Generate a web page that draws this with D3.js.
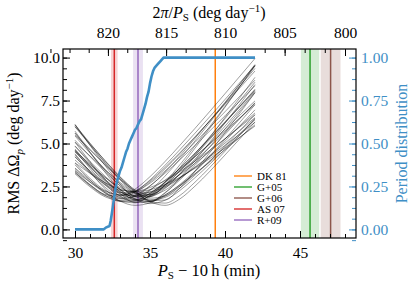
<!DOCTYPE html>
<html>
<head>
<meta charset="utf-8">
<script src="https://cdn.jsdelivr.net/npm/d3@7"></script>
<style>
  html, body { margin: 0; padding: 0; background: #fff; }
  svg { display: block; font-family: "Liberation Serif", "DejaVu Serif", serif; }
</style>
</head>
<body>
<svg id="chart" width="415" height="288"></svg>
<script>
/* Data
======================================================================= */
var curveX = [30, 31, 32, 33, 34, 35, 36, 37, 38, 40, 42];

// RMS delta Omega_p (deg/day) of each trial curve, one row per curve
var rmsCurves = [
  [3.41, 2.61, 2.04, 1.93, 2.34, 3.07, 3.95, 4.90, 5.88, 7.90, 9.95],
  [3.24, 2.48, 1.90, 1.70, 1.97, 2.54, 3.27, 4.06, 4.89, 6.61, 8.36],
  [3.86, 2.97, 2.28, 2.00, 2.24, 2.83, 3.61, 4.47, 5.39, 7.28, 9.22],
  [3.53, 2.76, 2.13, 1.81, 1.91, 2.31, 2.87, 3.53, 4.24, 5.73, 7.27],
  [4.34, 3.38, 2.58, 2.13, 2.22, 2.76, 3.53, 4.42, 5.36, 7.34, 9.37],
  [3.76, 2.88, 2.13, 1.65, 1.68, 2.10, 2.73, 3.45, 4.22, 5.83, 7.48],
  [4.61, 3.55, 2.62, 1.99, 1.98, 2.52, 3.34, 4.29, 5.30, 7.40, 9.54],
  [4.22, 3.41, 2.72, 2.28, 2.22, 2.44, 2.84, 3.37, 3.97, 5.28, 6.67],
  [4.24, 3.31, 2.46, 1.85, 1.72, 2.10, 2.77, 3.57, 4.42, 6.22, 8.07],
  [5.08, 3.94, 2.88, 2.06, 1.81, 2.27, 3.10, 4.10, 5.15, 7.35, 9.60],
  [4.04, 3.29, 2.63, 2.16, 2.00, 2.18, 2.61, 3.19, 3.84, 5.27, 6.78],
  [4.68, 3.67, 2.72, 1.94, 1.60, 1.89, 2.56, 3.40, 4.31, 6.21, 8.16],
  [4.52, 3.64, 2.83, 2.20, 1.90, 2.07, 2.56, 3.23, 3.99, 5.64, 7.36],
  [5.72, 4.49, 3.33, 2.31, 1.72, 1.95, 2.75, 3.77, 4.87, 7.16, 9.51],
  [4.59, 3.77, 3.03, 2.44, 2.12, 2.17, 2.50, 3.01, 3.63, 5.02, 6.51],
  [4.86, 3.87, 2.93, 2.10, 1.56, 1.60, 2.14, 2.89, 3.73, 5.53, 7.37],
  [6.12, 4.89, 3.72, 2.65, 1.91, 1.91, 2.60, 3.61, 4.73, 7.11, 9.55],
  [5.44, 4.44, 3.49, 2.66, 2.11, 2.04, 2.48, 3.22, 4.09, 6.01, 8.02],
  [4.52, 3.69, 2.91, 2.21, 1.72, 1.62, 1.94, 2.53, 3.23, 4.78, 6.41],
  [6.07, 4.94, 3.86, 2.88, 2.13, 1.92, 2.38, 3.25, 4.28, 6.52, 8.85],
  [5.19, 4.25, 3.36, 2.55, 1.92, 1.70, 2.00, 2.62, 3.40, 5.13, 6.96],
  [6.09, 5.02, 3.99, 3.05, 2.31, 2.00, 2.28, 2.97, 3.86, 5.85, 7.96],
  [4.59, 3.79, 3.03, 2.33, 1.77, 1.50, 1.70, 2.27, 3.01, 4.66, 6.39],
  [5.60, 4.66, 3.76, 2.92, 2.22, 1.82, 1.94, 2.53, 3.36, 5.25, 7.26],
  [5.99, 4.99, 4.01, 3.07, 2.25, 1.68, 1.71, 2.41, 3.40, 5.63, 7.96],
  [5.07, 4.27, 3.48, 2.74, 2.08, 1.61, 1.53, 1.98, 2.75, 4.55, 6.48],
  [5.49, 4.63, 3.78, 2.96, 2.21, 1.62, 1.40, 1.78, 2.52, 4.33, 6.26],
  [3.57, 2.85, 2.19, 1.65, 1.40, 1.55, 2.00, 2.59, 3.24, 4.64, 6.09],
  [3.30, 2.59, 1.99, 1.64, 1.65, 1.95, 2.42, 2.99, 3.60, 4.89, 6.23],
  [3.88, 3.26, 2.72, 2.34, 2.20, 2.31, 2.61, 3.04, 3.56, 4.74, 6.02],
  [3.33, 2.55, 1.97, 1.81, 2.18, 2.88, 3.73, 4.65, 5.60, 7.56, 9.55],
  [4.40, 3.35, 2.37, 1.65, 1.55, 2.00, 2.73, 3.56, 4.44, 6.26, 8.12],
  [5.61, 4.50, 3.45, 2.54, 1.96, 2.01, 2.59, 3.43, 4.39, 6.45, 8.57],
  [3.43, 2.75, 2.23, 2.00, 2.18, 2.69, 3.40, 4.21, 5.07, 6.85, 8.69],
  [5.97, 4.92, 3.91, 2.96, 2.15, 1.71, 1.86, 2.41, 3.16, 4.87, 6.68],
  [4.83, 3.95, 3.10, 2.34, 1.77, 1.62, 2.11, 2.99, 4.01, 6.19, 8.43]
];

// Cumulative period distribution (right axis)
var distX = [30.0, 31.9, 32.05, 32.3, 32.38, 32.45, 32.52, 32.6, 32.7, 32.8, 32.9, 33.0,
             33.1, 33.2, 33.3, 33.4, 33.5, 33.6, 33.7, 33.8, 33.9, 34.0, 34.1, 34.2,
             34.3, 34.4, 34.5, 34.6, 34.7, 34.8, 34.9, 35.0, 35.1, 35.2, 35.3, 35.5,
             35.7, 35.9, 42.0];
var distY = [0.00, 0.00, 0.01, 0.02, 0.05, 0.09, 0.13, 0.18, 0.24, 0.28, 0.31, 0.34,
             0.36, 0.39, 0.42, 0.45, 0.47, 0.50, 0.52, 0.54, 0.56, 0.58, 0.59, 0.61,
             0.63, 0.64, 0.67, 0.70, 0.73, 0.77, 0.80, 0.85, 0.89, 0.92, 0.94, 0.96,
             0.98, 1.00, 1.00];

// Published periods (min past 10 h) and their uncertainties
var refNames = ['DK 81', 'G+05', 'G+06', 'AS 07', 'R+09'];
var refPeriod = [39.35, 45.67, 47.04, 32.62, 34.20];
var refErr = [0.0, 0.61, 0.66, 0.22, 0.33];
var refColor = ['#ff7f0e', '#2ca02c', '#8c564b', '#d62728', '#9467bd'];

// Tick values
var bottomTicks = [30, 35, 40, 45];
var topTicks = [820, 815, 810, 805, 800];
var leftTicks = [0, 2.5, 5, 7.5, 10];
var rightTicks = [0, 0.25, 0.5, 0.75, 1];

/* Layout
======================================================================= */
var svg = d3.select('#chart'),
    m = { left: 63, right: 356, top: 49, bottom: 238 },
    blue = '#3f8fc6',
    fs = 15.5; // tick label font size

var x = d3.scaleLinear().domain([29.2, 48.733]).range([m.left, m.right]),
    y = d3.scaleLinear().domain([-0.5, 10.5]).range([m.bottom, m.top]),
    y2 = d3.scaleLinear().domain([-0.05, 1.05]).range([m.bottom, m.top]);

// angular frequency (deg/day) <-> P_S - 10 h (min)
function omegaToX(om) { return 360 * 24 * 60 / om - 600; }

svg.append('clipPath').attr('id', 'clip')
  .append('rect')
    .attr('x', m.left).attr('y', m.top)
    .attr('width', m.right - m.left).attr('height', m.bottom - m.top);

var plot = svg.append('g').attr('clip-path', 'url(#clip)');

/* Bands and reference lines
======================================================================= */
refPeriod.forEach(function(p, i) {
  if (refErr[i] > 0) {
    plot.append('rect')
      .attr('x', x(p - refErr[i]))
      .attr('y', m.top)
      .attr('width', x(p + refErr[i]) - x(p - refErr[i]))
      .attr('height', m.bottom - m.top)
      .attr('fill', refColor[i])
      .attr('fill-opacity', 0.2);
  }
});

refPeriod.forEach(function(p, i) {
  plot.append('line')
    .attr('x1', x(p)).attr('x2', x(p))
    .attr('y1', m.top).attr('y2', m.bottom)
    .attr('stroke', refColor[i])
    .attr('stroke-width', 1.5);
});

/* RMS curves
======================================================================= */
var curveLine = d3.line()
  .x(function(d, i) { return x(curveX[i]); })
  .y(function(d) { return y(d); })
  .curve(d3.curveMonotoneX);

plot.selectAll('path.rms')
  .data(rmsCurves)
  .enter().append('path')
    .attr('class', 'rms')
    .attr('d', curveLine)
    .attr('fill', 'none')
    .attr('stroke', '#000')
    .attr('stroke-opacity', 0.38)
    .attr('stroke-width', 1);

/* Period distribution
======================================================================= */
var distLine = d3.line()
  .x(function(d, i) { return x(distX[i]); })
  .y(function(d) { return y2(d); });

plot.append('path')
  .attr('d', distLine(distY))
  .attr('fill', 'none')
  .attr('stroke', blue)
  .attr('stroke-width', 2.6)
  .attr('stroke-linejoin', 'round');

/* Axes
======================================================================= */
function styleAxis(g, color) {
  g.select('.domain').remove();
  g.selectAll('.tick line').attr('stroke', color).attr('stroke-width', 1);
  g.selectAll('.tick text').attr('fill', color).style('font-size', fs + 'px')
    .style('font-family', '"Liberation Serif", serif');
}

// bottom
var gB = svg.append('g').attr('transform', 'translate(0,' + m.bottom + ')');
gB.call(d3.axisBottom(x).tickValues(d3.range(30, 49, 1)).tickSize(-4).tickFormat(''));
gB.call(function(g) { styleAxis(g, '#000'); });
var gB2 = svg.append('g').attr('transform', 'translate(0,' + m.bottom + ')');
gB2.call(d3.axisBottom(x).tickValues(bottomTicks).tickSize(-7).tickPadding(8.5).tickFormat(d3.format('d')));
gB2.call(function(g) { styleAxis(g, '#000'); });

// top (2 pi / P_S): majors every 5, two minors between
var gT = svg.append('g').attr('transform', 'translate(0,' + m.top + ')');
gT.call(d3.axisTop(x).tickValues(topTicks.map(omegaToX)).tickSize(-7).tickPadding(11)
  .tickFormat(function(d, i) { return topTicks[i]; }));
gT.call(function(g) { styleAxis(g, '#000'); });
var gT2 = svg.append('g').attr('transform', 'translate(0,' + m.top + ')');
gT2.call(d3.axisTop(x).tickValues(d3.range(0, 16).map(function(k) { return omegaToX(825 - k * 5 / 3); }))
  .tickSize(-4).tickFormat(''));
gT2.call(function(g) { styleAxis(g, '#000'); });

// left
var gL = svg.append('g').attr('transform', 'translate(' + m.left + ',0)');
gL.call(d3.axisLeft(y).tickValues(d3.range(-0.625, 10.6, 0.625)).tickSize(-4).tickFormat(''));
gL.call(function(g) { styleAxis(g, '#000'); });
var gL2 = svg.append('g').attr('transform', 'translate(' + m.left + ',0)');
gL2.call(d3.axisLeft(y).tickValues(leftTicks).tickSize(-7).tickPadding(3).tickFormat(d3.format('.1f')));
gL2.call(function(g) { styleAxis(g, '#000'); });

// right (period distribution)
var gR = svg.append('g').attr('transform', 'translate(' + m.right + ',0)');
gR.call(d3.axisRight(y2).tickValues(d3.range(-0.0625, 1.06, 0.0625)).tickSize(-4).tickFormat(''));
gR.call(function(g) { styleAxis(g, blue); });
var gR2 = svg.append('g').attr('transform', 'translate(' + m.right + ',0)');
gR2.call(d3.axisRight(y2).tickValues(rightTicks).tickSize(-7).tickPadding(5).tickFormat(d3.format('.2f')));
gR2.call(function(g) { styleAxis(g, blue); });

// frame
svg.append('rect')
  .attr('x', m.left).attr('y', m.top)
  .attr('width', m.right - m.left).attr('height', m.bottom - m.top)
  .attr('fill', 'none').attr('stroke', '#000').attr('stroke-width', 1.2);

/* Axis labels
======================================================================= */
var lb = svg.append('text')
  .attr('x', 209).attr('y', 276)
  .attr('text-anchor', 'middle')
  .style('font-size', '16.5px');
lb.append('tspan').style('font-style', 'italic').text('P');
lb.append('tspan').attr('dy', 3).style('font-size', '11px').text('S');
lb.append('tspan').attr('dy', -3).text(' \u2212 10\u2009h  (min)');

var lt = svg.append('text')
  .attr('x', 209).attr('y', 18)
  .attr('text-anchor', 'middle')
  .style('font-size', '16px');
lt.append('tspan').text('2');
lt.append('tspan').style('font-style', 'italic').text('\u03c0');
lt.append('tspan').text('/');
lt.append('tspan').style('font-style', 'italic').text('P');
lt.append('tspan').attr('dy', 3).style('font-size', '11px').text('S');
lt.append('tspan').attr('dy', -3).text(' (deg day');
lt.append('tspan').attr('dy', -6).style('font-size', '11px').text('\u22121');
lt.append('tspan').attr('dy', 6).text(')');

var ll = svg.append('text')
  .attr('transform', 'translate(19,143.5) rotate(-90)')
  .attr('text-anchor', 'middle')
  .style('font-size', '16px');
ll.append('tspan').text('RMS \u0394\u03a9');
ll.append('tspan').attr('dy', 4).style('font-size', '11px').style('font-style', 'italic').text('p');
ll.append('tspan').attr('dy', -4).text(' (deg day');
ll.append('tspan').attr('dy', -6).style('font-size', '11px').text('\u22121');
ll.append('tspan').attr('dy', 6).text(')');

svg.append('text')
  .attr('transform', 'translate(407,143.5) rotate(-90)')
  .attr('text-anchor', 'middle')
  .attr('fill', blue)
  .style('font-size', '16px')
  .text('Period distribution');

/* Legend
======================================================================= */
var leg = svg.append('g').attr('transform', 'translate(234,176)');
refNames.forEach(function(name, i) {
  var row = leg.append('g').attr('transform', 'translate(0,' + (i * 11) + ')');
  row.append('line')
    .attr('x1', 0).attr('x2', 18)
    .attr('stroke', refColor[i]).attr('stroke-width', 1.8).attr('stroke-opacity', 0.75);
  row.append('text')
    .attr('x', 23).attr('y', 3.8)
    .style('font-size', '11px')
    .text(name);
});
</script>
</body>
</html>
